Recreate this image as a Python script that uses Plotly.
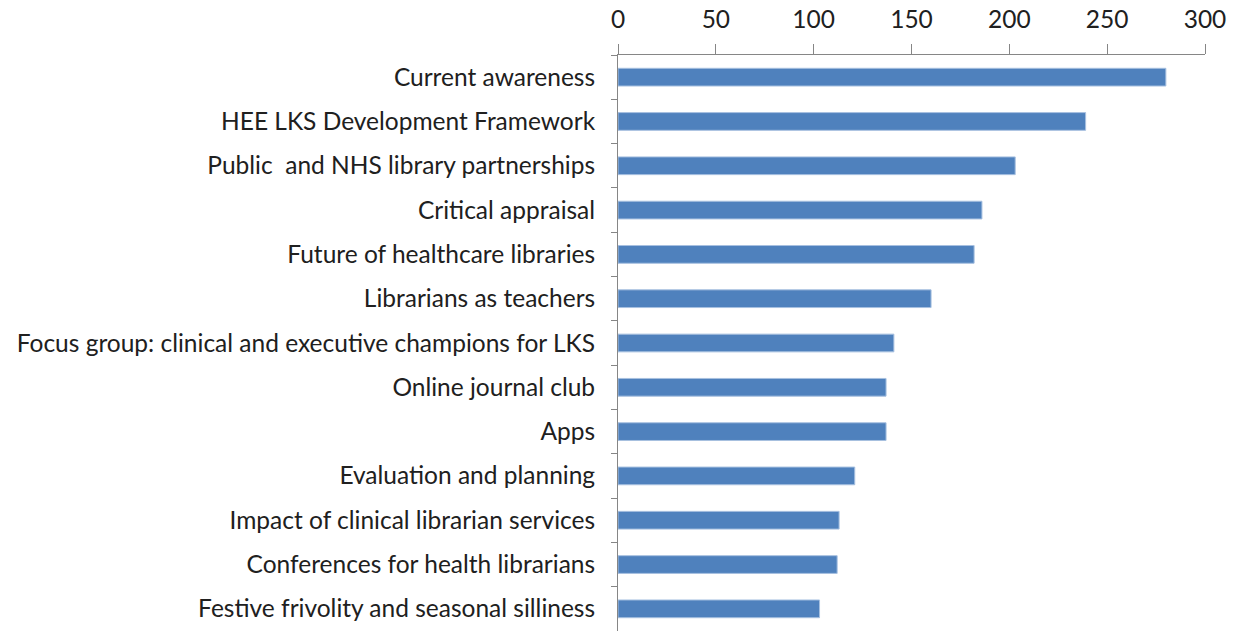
import plotly.graph_objects as go

categories = [
    "Current awareness",
    "HEE LKS Development Framework",
    "Public  and NHS library partnerships",
    "Critical appraisal",
    "Future of healthcare libraries",
    "Librarians as teachers",
    "Focus group: clinical and executive champions for LKS",
    "Online journal club",
    "Apps",
    "Evaluation and planning",
    "Impact of clinical librarian services",
    "Conferences for health librarians",
    "Festive frivolity and seasonal silliness",
]
values = [280, 239, 203, 186, 182, 160, 141, 137, 137, 121, 113, 112, 103]
x_ticks = [0, 50, 100, 150, 200, 250, 300]

fig = go.Figure(go.Bar(
    y=categories,
    x=values,
    orientation="h",
    marker=dict(color="#4F81BD", line=dict(color="#A7C0E0", width=1)),
    hoverinfo="x+y",
))

fig.update_layout(
    width=1234, height=631,
    margin=dict(l=618, r=29, t=55, b=0),
    paper_bgcolor="white", plot_bgcolor="white",
    bargap=0.6,
    showlegend=False,
    font=dict(family="Lato, Open Sans, sans-serif", size=24.5, color="#202020"),
)
fig.update_xaxes(
    side="top", range=[0, 300], tickvals=x_ticks,
    ticks="outside", ticklen=10, tickcolor="#868686",
    showline=True, linecolor="#868686", linewidth=1,
    showgrid=False, zeroline=False,
    ticklabelstandoff=6,
)
fig.update_yaxes(
    autorange="reversed", type="category",
    ticks="outside", ticklen=6, tickcolor="#868686", tickson="boundaries",
    showline=True, linecolor="#868686", linewidth=1,
    showgrid=False,
    ticklabelstandoff=17,
)

fig.write_html(
    "out.html",
    config={"displayModeBar": False},
    post_script="document.body.style.margin='0px';document.body.style.overflow='hidden';",
)
